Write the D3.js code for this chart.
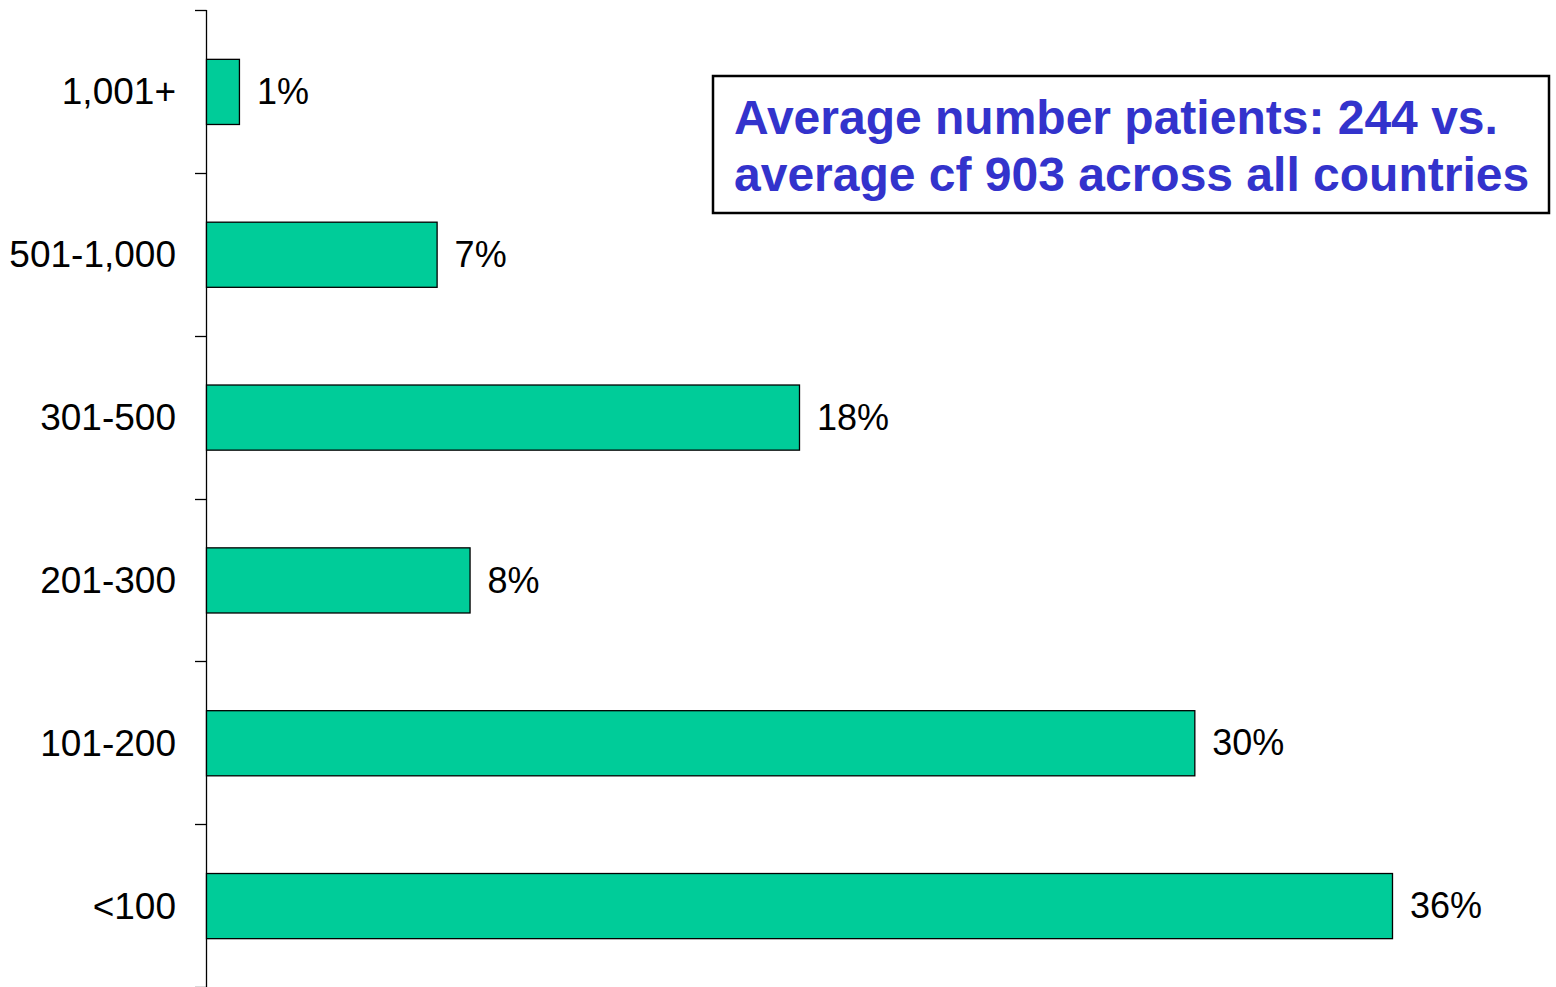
<!DOCTYPE html>
<html>
<head>
<meta charset="utf-8">
<script src="https://cdn.jsdelivr.net/npm/d3@7"></script>
<style>
  body { margin: 0; background: #fff; }
  svg { display: block; font-family: "Liberation Sans", Arial, sans-serif; }
</style>
</head>
<body>
<div id="chart"></div>
<script>
// patient count buckets, top to bottom
var categories = ["1,001+", "501-1,000", "301-500", "201-300", "101-200", "<100"];
var shares = [1, 7, 18, 8, 30, 36];
var noteLines = ["Average number patients: 244 vs.", "average cf 903 across all countries"];

var width = 1556, height = 987;
var margin = {top: 10, right: 0, bottom: 0, left: 206};

var svg = d3.select("#chart").append("svg")
    .attr("width", width)
    .attr("height", height);

var g = svg.append("g")
    .attr("transform", "translate(" + margin.left + "," + margin.top + ")");

var innerH = height - margin.top - margin.bottom;

var x = d3.scaleLinear()
    .domain([0, 36])
    .range([0, 1186]);

var y = d3.scaleBand()
    .domain(categories)
    .range([0, innerH])
    .padding(0);

var barH = y.bandwidth() * 0.4;

// axis with ticks between the bands
var tickPos = d3.range(categories.length + 1).map(function(i){ return i * y.step(); });

g.append("line")
    .attr("x1", 0.5).attr("x2", 0.5)
    .attr("y1", 0).attr("y2", innerH)
    .attr("stroke", "#000")
    .attr("stroke-width", 1.3);

g.selectAll(".tick-mark")
    .data(tickPos)
    .enter()
    .append("line")
    .attr("class", "tick-mark")
    .attr("x1", -11).attr("x2", 0.5)
    .attr("y1", function(d){ return Math.round(d) + 0.5; })
    .attr("y2", function(d){ return Math.round(d) + 0.5; })
    .attr("stroke", "#000")
    .attr("stroke-width", 1.3);

g.selectAll(".cat-label")
    .data(categories)
    .enter()
    .append("text")
    .attr("class", "cat-label")
    .attr("x", -30)
    .attr("y", function(d){ return y(d) + y.bandwidth() / 2; })
    .attr("dy", "0.35em")
    .attr("text-anchor", "end")
    .attr("font-size", 37)
    .attr("fill", "#000")
    .text(function(d){ return d; });

g.selectAll(".bar")
    .data(shares)
    .enter()
    .append("rect")
    .attr("class", "bar")
    .attr("x", 0.5)
    .attr("y", function(d, i){ return y(categories[i]) + y.bandwidth() / 2 - barH / 2 + 0.5; })
    .attr("width", function(d){ return x(d); })
    .attr("height", barH)
    .attr("fill", "#00cc99")
    .attr("stroke", "#000")
    .attr("stroke-width", 1.3);

g.selectAll(".val-label")
    .data(shares)
    .enter()
    .append("text")
    .attr("class", "val-label")
    .attr("x", function(d){ return x(d) + 18; })
    .attr("y", function(d, i){ return y(categories[i]) + y.bandwidth() / 2; })
    .attr("dy", "0.35em")
    .attr("font-size", 36)
    .attr("fill", "#000")
    .text(function(d){ return d + "%"; });

// note box
var note = svg.append("g");

note.append("rect")
    .attr("x", 713).attr("y", 76)
    .attr("width", 836).attr("height", 137)
    .attr("fill", "#fff")
    .attr("stroke", "#000")
    .attr("stroke-width", 2.5);

note.selectAll("text")
    .data(noteLines)
    .enter()
    .append("text")
    .attr("x", 734)
    .attr("y", function(d, i){ return 134 + i * 57; })
    .attr("font-size", 48)
    .attr("font-weight", "bold")
    .attr("fill", "#3333cc")
    .text(function(d){ return d; });
</script>
</body>
</html>
